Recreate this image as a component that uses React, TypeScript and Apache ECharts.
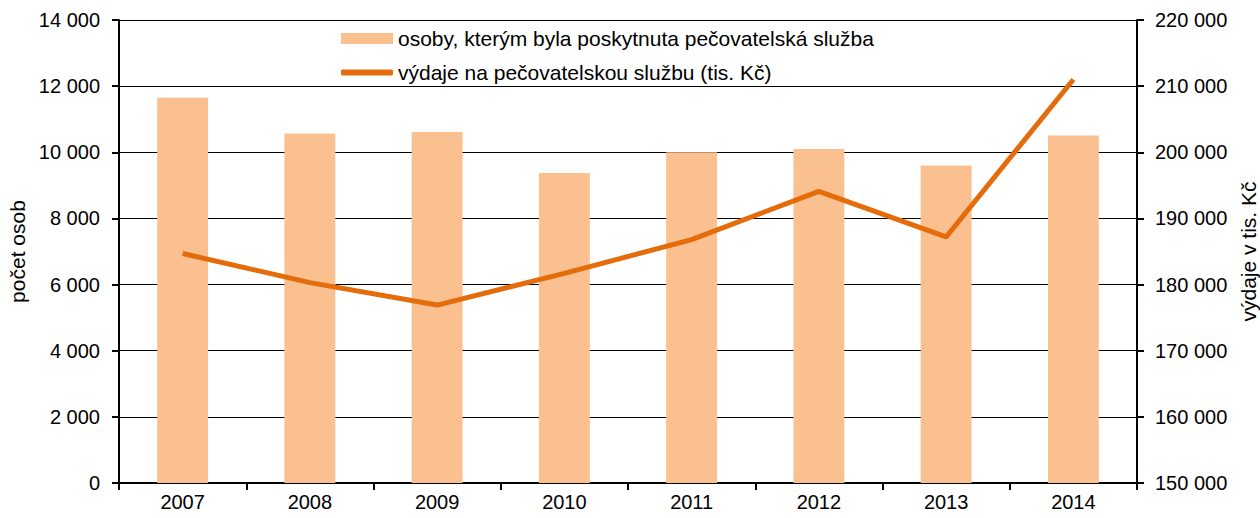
import React, { useEffect, useRef } from "react";
import * as echarts from "echarts";

const categories = ["2007", "2008", "2009", "2010", "2011", "2012", "2013", "2014"];
const persons = [11650, 10570, 10610, 9370, 10000, 10100, 9600, 10510];
const expenses = [184700, 180300, 176900, 181700, 186800, 194100, 187200, 211000];
const barName = "osoby, kterým byla poskytnuta pečovatelská služba";
const lineName = "výdaje na pečovatelskou službu (tis. Kč)";

const FONT = "'Liberation Sans', Arial, sans-serif";
const fmt = (v: number) => String(v).replace(/\B(?=(\d{3})+(?!\d))/g, " ");

export default function App() {
  const ref = useRef<HTMLDivElement>(null);
  useEffect(() => {
    document.body.style.margin = "0";
    const chart = echarts.init(ref.current!, null, { renderer: "svg" });
    chart.setOption({
      animation: false,
      textStyle: { fontFamily: FONT, color: "#000" },
      grid: { left: 119, right: 123, top: 20, bottom: 35, outerBoundsMode: "none", containLabel: false },
      legend: [
        {
          data: [barName],
          left: 341,
          top: 28,
          padding: 0,
          itemWidth: 52,
          itemHeight: 11,
          icon: "rect",
          textStyle: { fontFamily: FONT, fontSize: 21, color: "#000" },
        },
        {
          data: [lineName],
          left: 341,
          top: 62,
          padding: 0,
          itemWidth: 52,
          itemHeight: 6,
          icon: "roundRect",
          textStyle: { fontFamily: FONT, fontSize: 21, color: "#000" },
        },
      ],
      xAxis: {
        type: "category",
        data: categories,
        boundaryGap: true,
        axisLine: { lineStyle: { color: "#000", width: 2 } },
        axisTick: { show: true, length: 7, alignWithLabel: false, lineStyle: { color: "#000", width: 2 } },
        axisLabel: { fontFamily: FONT, fontSize: 20, color: "#000", margin: 9 },
      },
      yAxis: [
        {
          type: "value",
          min: 0,
          max: 14000,
          interval: 2000,
          name: "počet osob",
          nameLocation: "middle",
          nameGap: 88,
          nameRotate: 90,
          nameTextStyle: { fontFamily: FONT, fontSize: 21, color: "#000" },
          axisLine: { show: true, lineStyle: { color: "#000", width: 2 } },
          axisTick: { show: true, length: 7, lineStyle: { color: "#000", width: 2 } },
          axisLabel: { fontFamily: FONT, fontSize: 20, color: "#000", margin: 19, formatter: fmt },
          splitLine: { show: true, lineStyle: { color: "#000", width: 1 } },
        },
        {
          type: "value",
          min: 150000,
          max: 220000,
          interval: 10000,
          position: "right",
          name: "výdaje v tis. Kč",
          nameLocation: "middle",
          nameGap: 100,
          nameRotate: 90,
          nameTextStyle: { fontFamily: FONT, fontSize: 21, color: "#000" },
          axisLine: { show: true, lineStyle: { color: "#000", width: 2 } },
          axisTick: { show: true, length: 7, lineStyle: { color: "#000", width: 2 } },
          axisLabel: { fontFamily: FONT, fontSize: 20, color: "#000", margin: 18, formatter: fmt },
          splitLine: { show: false },
        },
      ],
      series: [
        {
          name: barName,
          type: "bar",
          data: persons,
          yAxisIndex: 0,
          barWidth: "40%",
          itemStyle: { color: "#FAC090" },
        },
        {
          name: lineName,
          type: "line",
          data: expenses,
          yAxisIndex: 1,
          symbol: "none",
          showSymbol: false,
          lineStyle: { color: "#E46C0A", width: 5 },
          itemStyle: { color: "#E46C0A" },
        },
      ],
    });
    return () => chart.dispose();
  }, []);
  return <div ref={ref} style={{ width: 1260, height: 518 }} />;
}
